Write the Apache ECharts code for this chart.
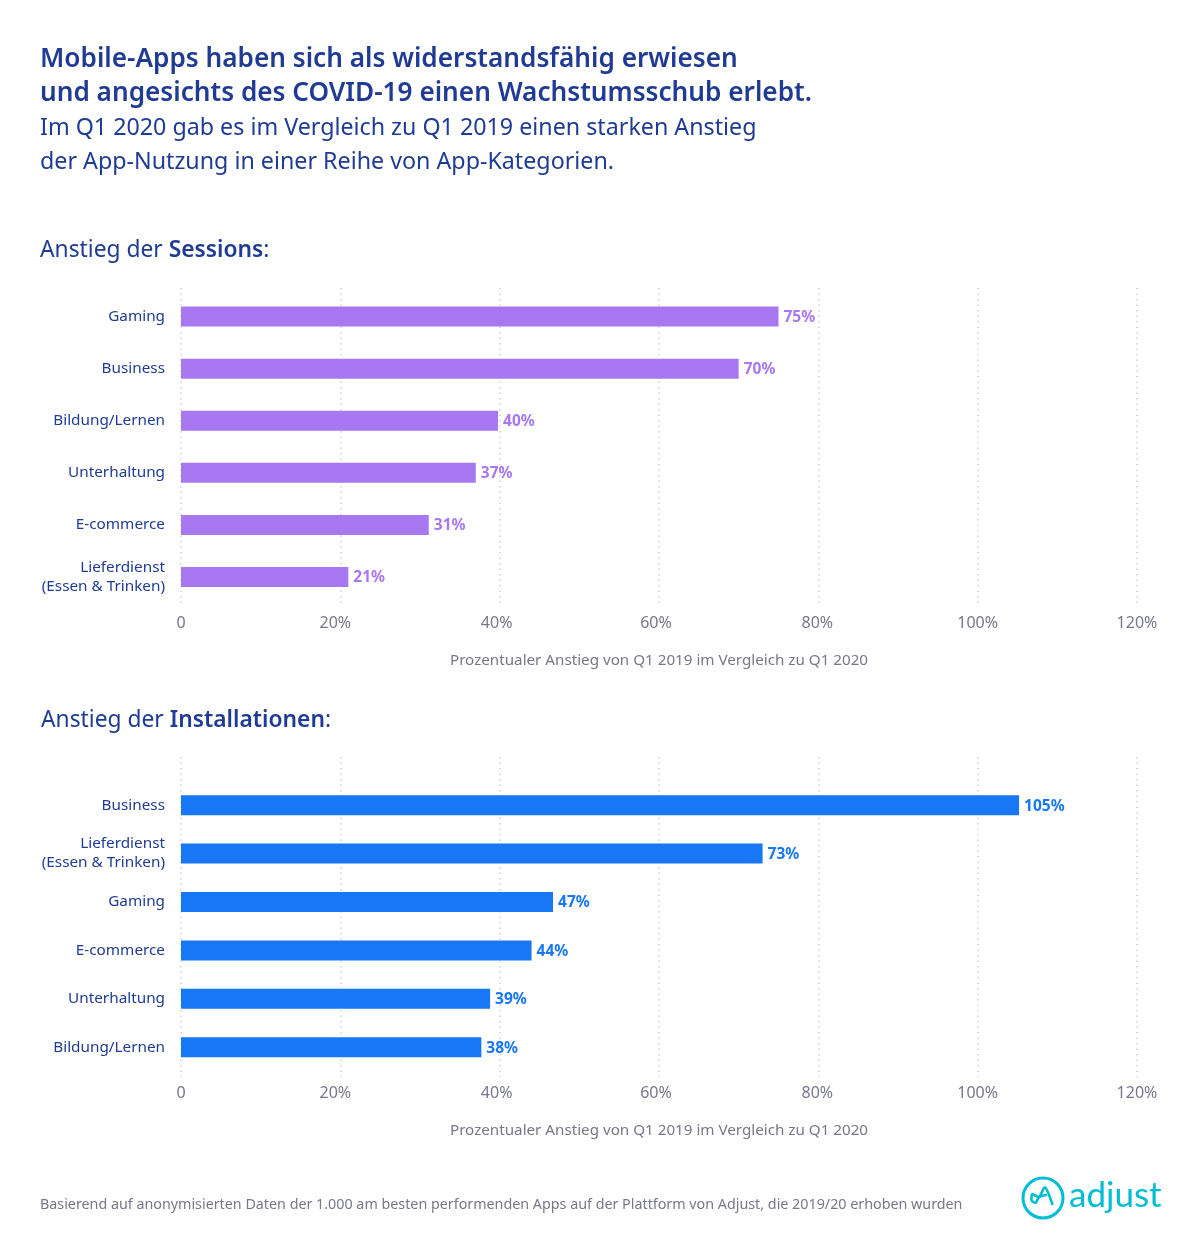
<!DOCTYPE html>
<html>
<head>
<meta charset="utf-8">
<title>Mobile-Apps</title>
<script src="https://cdn.jsdelivr.net/npm/echarts@6/dist/echarts.min.js"></script>
<style>
  html, body { margin: 0; background: #fff; }
  #main { width: 1200px; height: 1250px; }
</style>
</head>
<body>
<div id="main"></div>
<script>
var sessionCats = ['Gaming', 'Business', 'Bildung/Lernen', 'Unterhaltung', 'E-commerce', 'Lieferdienst\n(Essen & Trinken)'];
var sessionVals = [75, 70, 39.8, 37, 31.1, 21];
var installCats = ['Business', 'Lieferdienst\n(Essen & Trinken)', 'Gaming', 'E-commerce', 'Unterhaltung', 'Bildung/Lernen'];
var installVals = [105.2, 73, 46.7, 44, 38.8, 37.7];
var xTicks = [0, 20, 40, 60, 80, 100, 120];
var xName = 'Prozentualer Anstieg von Q1 2019 im Vergleich zu Q1 2020';

var NAVY = '#1f3b94';
var GREY = '#77778a';
var PURPLE = '#a778f2';
var BLUE = '#1877f5';
var TEAL = '#00bcd4';
var FONT = '"Noto Sans", sans-serif';

var myChart = echarts.init(document.getElementById('main'), null, { renderer: 'canvas' });

// grid 0/2 carry the dotted lines and tick labels, grid 1/3 the bars (the rows do not fill the line height)
function frameAxis(gridIndex) {
  return {
    gridIndex: gridIndex, type: 'value', min: 0, max: 120, interval: 20,
    name: xName, nameLocation: 'middle', nameGap: 46,
    nameTextStyle: { color: GREY, fontSize: 15.2, fontFamily: FONT },
    axisLine: { show: false }, axisTick: { show: false },
    axisLabel: {
      color: GREY, fontSize: 16, fontFamily: FONT, margin: 8,
      formatter: function (v) {
        if (v === 0) return '0';
        // labels sit a little left of their line in the reference
        if (v === 20) return '{l20|' + v + '%}';
        if (v === 40 || v === 60) return '{l6|' + v + '%}';
        if (v === 80) return '{l2|' + v + '%}';
        return v + '%';
      },
      rich: {
        l20: { color: GREY, fontSize: 16, fontFamily: FONT, padding: [0, 10, 0, 0] },
        l6: { color: GREY, fontSize: 16, fontFamily: FONT, padding: [0, 6, 0, 0] },
        l2: { color: GREY, fontSize: 16, fontFamily: FONT, padding: [0, 2, 0, 0] }
      }
    },
    splitLine: { show: true, lineStyle: { color: '#d0d2d8', type: [1.5, 4], width: 1.5 } }
  };
}
function barAxis(gridIndex) {
  return { gridIndex: gridIndex, type: 'value', min: 0, max: 120, show: false };
}
function frameY(gridIndex) {
  return { gridIndex: gridIndex, type: 'value', show: false };
}
function catAxis(gridIndex, cats) {
  return {
    gridIndex: gridIndex, type: 'category', data: cats, inverse: true,
    axisLine: { show: false }, axisTick: { show: false },
    axisLabel: { color: NAVY, fontSize: 15.3, fontFamily: FONT, margin: 16, lineHeight: 19, align: 'right', padding: [4, 0, 0, 0] }
  };
}
function barSeries(axisIndex, vals, color) {
  return {
    type: 'bar', xAxisIndex: axisIndex, yAxisIndex: axisIndex, data: vals, barWidth: 20,
    itemStyle: { color: color }, silent: true,
    label: {
      show: true, position: 'right', distance: 5, offset: [0, 1], color: color,
      fontSize: 15.5, fontWeight: 'bold', fontFamily: FONT,
      formatter: function (p) { return Math.round(p.value) + '%'; }
    }
  };
}
function heading(left, top, text, size) {
  return {
    left: left, top: top, text: text, padding: 0,
    textStyle: {
      color: NAVY, fontSize: size, fontWeight: 'normal', fontFamily: FONT,
      rich: { b: { color: NAVY, fontSize: size, fontWeight: 600, fontFamily: FONT } }
    }
  };
}

var option = {
  animation: false,
  backgroundColor: '#fff',
  title: [
    { left: 40, top: 43, padding: 0, text: 'Mobile-Apps haben sich als widerstandsfähig erwiesen\nund angesichts des COVID-19 einen Wachstumsschub erlebt.',
      textStyle: { color: NAVY, fontSize: 26.2, fontWeight: 600, fontFamily: FONT, lineHeight: 34 } },
    { left: 40, top: 111, padding: 0, text: 'Im Q1 2020 gab es im Vergleich zu Q1 2019 einen starken Anstieg\nder App-Nutzung in einer Reihe von App-Kategorien.',
      textStyle: { color: NAVY, fontSize: 23.25, fontWeight: 'normal', fontFamily: FONT, lineHeight: 34 } },
    heading(40, 239, 'Anstieg der {b|Sessions}:', 22.8),
    heading(41, 709, 'Anstieg der {b|Installationen}:', 22.8),
    { left: 40, top: 1198, padding: 0, text: 'Basierend auf anonymisierten Daten der 1.000 am besten performenden Apps auf der Plattform von Adjust, die 2019/20 erhoben wurden',
      textStyle: { color: GREY, fontSize: 14.3, fontWeight: 'normal', fontFamily: FONT } }
  ],
  grid: [
    { left: 181, width: 956, top: 288, height: 319 },
    { left: 181, width: 956, top: 290.5, height: 312.6 },
    { left: 181, width: 956, top: 757, height: 320 },
    { left: 181, width: 956, top: 781, height: 290.4 }
  ],
  xAxis: [frameAxis(0), barAxis(1), frameAxis(2), barAxis(3)],
  yAxis: [frameY(0), catAxis(1, sessionCats), frameY(2), catAxis(3, installCats)],
  series: [
    barSeries(1, sessionVals, PURPLE),
    barSeries(3, installVals, BLUE)
  ],
  graphic: [
    { type: 'circle', shape: { cx: 1043, cy: 1198, r: 20 }, style: { fill: 'none', stroke: TEAL, lineWidth: 3 } },
    { type: 'polyline', shape: { smooth: 0.25, points: [[1052.3, 1204], [1045, 1187.3], [1039, 1197], [1032.3, 1194], [1031.7, 1200.7], [1035.7, 1202.7], [1039, 1197.3], [1046, 1195]] },
      style: { fill: 'none', stroke: TEAL, lineWidth: 2.6, lineCap: 'round', lineJoin: 'round' } },
    { type: 'text', x: 1069, y: 1178, style: { text: 'adjust', fill: TEAL, fontSize: 35, fontFamily: 'Lato, sans-serif', fontWeight: 400 } }
  ]
};

myChart.setOption(option);
</script>
</body>
</html>
